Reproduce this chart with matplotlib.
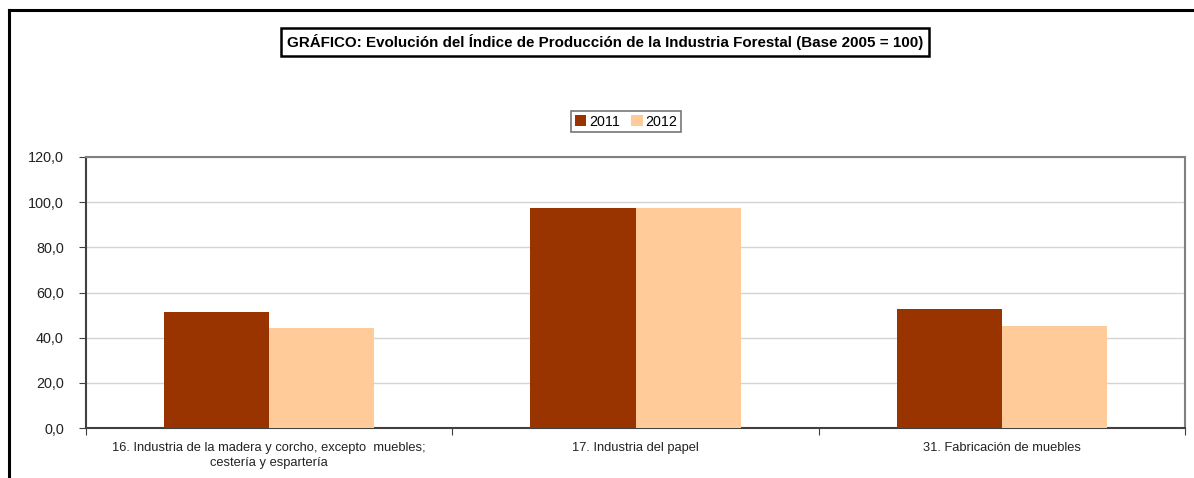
import matplotlib.pyplot as plt
import numpy as np

plt.rcParams['font.family'] = ['Liberation Sans', 'DejaVu Sans']

categories = ['16. Industria de la madera y corcho, excepto  muebles;\ncestería y espartería',
              '17. Industria del papel',
              '31. Fabricación de muebles']
years = ['2011', '2012']
v2011 = [51.4, 97.4, 52.7]
v2012 = [44.3, 97.4, 45.2]
yticks = [0, 20, 40, 60, 80, 100, 120]
colors = ['#993300', '#FFCC99']

W, H = 1194, 478
fig = plt.figure(figsize=(W / 100, H / 100), dpi=100)

# outer chart frame (left and top edges visible)
fig.add_artist(plt.Line2D([8.5 / W, 8.5 / W], [0, 1 - 10 / H], transform=fig.transFigure,
                          color='black', lw=2.2))
fig.add_artist(plt.Line2D([8.5 / W, 1], [1 - 10 / H, 1 - 10 / H], transform=fig.transFigure,
                          color='black', lw=2.2))

ax = fig.add_axes([86 / W, 1 - 428 / H, (1185 - 86) / W, (428 - 157) / H])

x = np.arange(len(categories))
bw = 105 / 366.3
ax.bar(x - bw / 2, v2011, bw, color=colors[0], label=years[0], zorder=3)
ax.bar(x + bw / 2, v2012, bw, color=colors[1], label=years[1], zorder=3)

ax.set_xlim(-0.5, 2.5)
ax.set_ylim(0, 120)
ax.set_yticks(yticks)
ax.set_yticklabels([f'{v:.1f}'.replace('.', ',') for v in yticks], fontsize=10.4, color='#222222')
ax.yaxis.grid(True, color='#d4d4d4', lw=1, zorder=0)
ax.tick_params(axis='y', length=5, color='#404040', pad=11)

# category labels centred, ticks at the boundaries
ax.set_xticks([-0.5, 0.5, 1.5, 2.5])
ax.set_xticklabels([])
ax.tick_params(axis='x', length=5, color='#404040')
for i, c in enumerate(categories):
    ax.text(i, -6.3, c, ha='center', va='top', fontsize=9.3, color='#222222',
            transform=ax.transData, linespacing=1.3)

for s in ['left', 'bottom']:
    ax.spines[s].set_color('#404040')
    ax.spines[s].set_linewidth(1.5)
for s in ['top', 'right']:
    ax.spines[s].set_color('#808080')
    ax.spines[s].set_linewidth(1.5)

leg = fig.legend(loc='center', bbox_to_anchor=(626 / W, 1 - 121.5 / H), ncol=2,
                 fontsize=10.3, frameon=True, fancybox=False, handlelength=0.8,
                 handleheight=0.8, handletextpad=0.2, columnspacing=0.8,
                 borderpad=0.25, borderaxespad=0)
leg.get_frame().set_edgecolor('#555555')
leg.get_frame().set_linewidth(1.2)

fig.text(605 / W, 1 - 42 / H,
         'GRÁFICO: Evolución del Índice de Producción de la Industria Forestal (Base 2005 = 100)',
         ha='center', va='center', fontsize=10.9, fontweight='bold',
         bbox=dict(boxstyle='square,pad=0.4', fc='white', ec='black', lw=1.8))

fig.savefig('out.png', dpi=100)
